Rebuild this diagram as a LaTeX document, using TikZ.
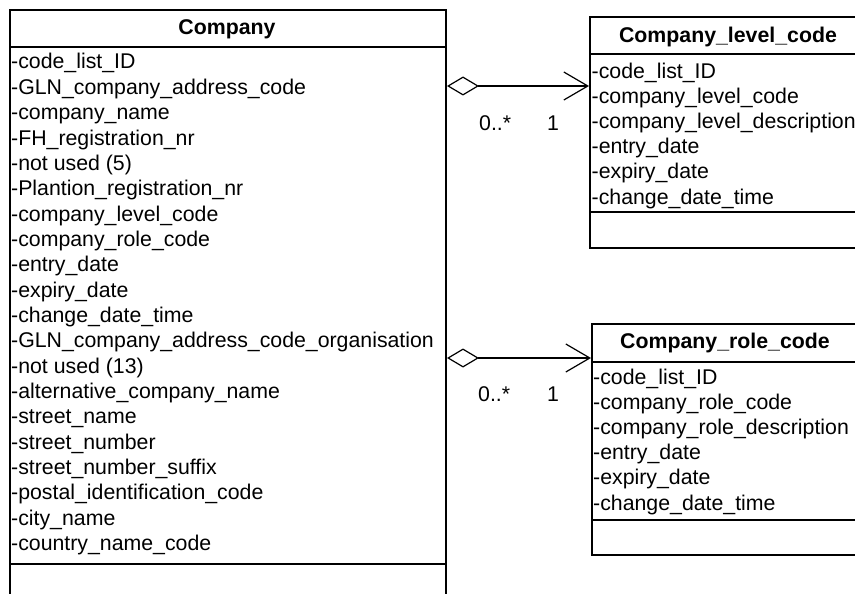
\documentclass[tikz,border=0pt]{standalone}
\usepackage{fontspec}
\setmainfont{Liberation Sans}
\usetikzlibrary{arrows.meta,positioning}

\begin{document}
\begin{tikzpicture}[x=1pt,y=-1pt,
    box/.style={draw,line width=2pt,anchor=north west,inner sep=0pt},
    attr/.style={anchor=base west,inner sep=0pt,font=\fontsize{21.3}{25}\selectfont},
    head/.style={anchor=base,inner sep=0pt,font=\bfseries\fontsize{21.3}{25}\selectfont},
    mult/.style={anchor=base west,inner sep=0pt,font=\fontsize{21.3}{25}\selectfont},
    assoc/.style={line width=1.2pt,
      {Diamond[open,length=32pt,width=19pt]}-{Straight Barb[length=24pt,width=28pt]}}]
   \useasboundingbox (0,0) rectangle (855,594);
   \clip (0,0) rectangle (855,594);
   % classes
   \node[box,minimum width=436pt,minimum height=610pt] (company) at (9,9) {};
   \node[box,minimum width=281pt,minimum height=231pt] (level) at (589,16) {};
   \node[box,minimum width=279pt,minimum height=231pt] (role) at (591,323) {};
   \draw[line width=2pt] ([yshift=-38pt]company.north west) -- ([yshift=-38pt]company.north east)
                         ([yshift=-555pt]company.north west) -- ([yshift=-555pt]company.north east);
   \draw[line width=2pt] ([yshift=-38pt]level.north west) -- ([yshift=-38pt]level.north east)
                         ([yshift=-196pt]level.north west) -- ([yshift=-196pt]level.north east);
   \draw[line width=2pt] ([yshift=-39pt]role.north west) -- ([yshift=-39pt]role.north east)
                         ([yshift=-197pt]role.north west) -- ([yshift=-197pt]role.north east);
   \node[head] (companyname) at (227,35) {Company};
   \node[head] (levelname) at (728,43) {Company\_level\_code};
   \node[head] (rolename) at (725,348) {Company\_role\_code};
   % attributes
   \foreach \a [count=\i] in {-code\_list\_ID,-GLN\_company\_address\_code,-company\_name,
       -FH\_registration\_nr,-not used (5),-Plantion\_registration\_nr,-company\_level\_code,
       -company\_role\_code,-entry\_date,-expiry\_date,-change\_date\_time,
       -GLN\_company\_address\_code\_organisation,-not used (13),-alternative\_company\_name,
       -street\_name,-street\_number,-street\_number\_suffix,-postal\_identification\_code,
       -city\_name,-country\_name\_code}
     \node[attr] (c\i) at (11,{69+25.35*(\i-1)}) {\a};
   \foreach \a [count=\i] in {-code\_list\_ID,-company\_level\_code,-company\_level\_description,
       -entry\_date,-expiry\_date,-change\_date\_time}
     \node[attr] (l\i) at (591.5,{78+25.2*(\i-1)}) {\a};
   \foreach \a [count=\i] in {-code\_list\_ID,-company\_role\_code,-company\_role\_description,
       -entry\_date,-expiry\_date,-change\_date\_time}
     \node[attr] (r\i) at (593,{384+25.2*(\i-1)}) {\a};
   % associations
   \coordinate (levellink) at (445,86);
   \coordinate (rolelink) at (445,358);
   \draw[assoc] (company.east |- levellink) -- (level.west |- levellink);
   \draw[assoc] (company.east |- rolelink) -- (role.west |- rolelink);
   \node[mult] (lvlmany) at (479,130) {0..*};
   \node[mult] (lvlone) at (547,130) {1};
   \node[mult] (rolemany) at (478,401) {0..*};
   \node[mult] (roleone) at (547,401) {1};
\end{tikzpicture}
\end{document}
